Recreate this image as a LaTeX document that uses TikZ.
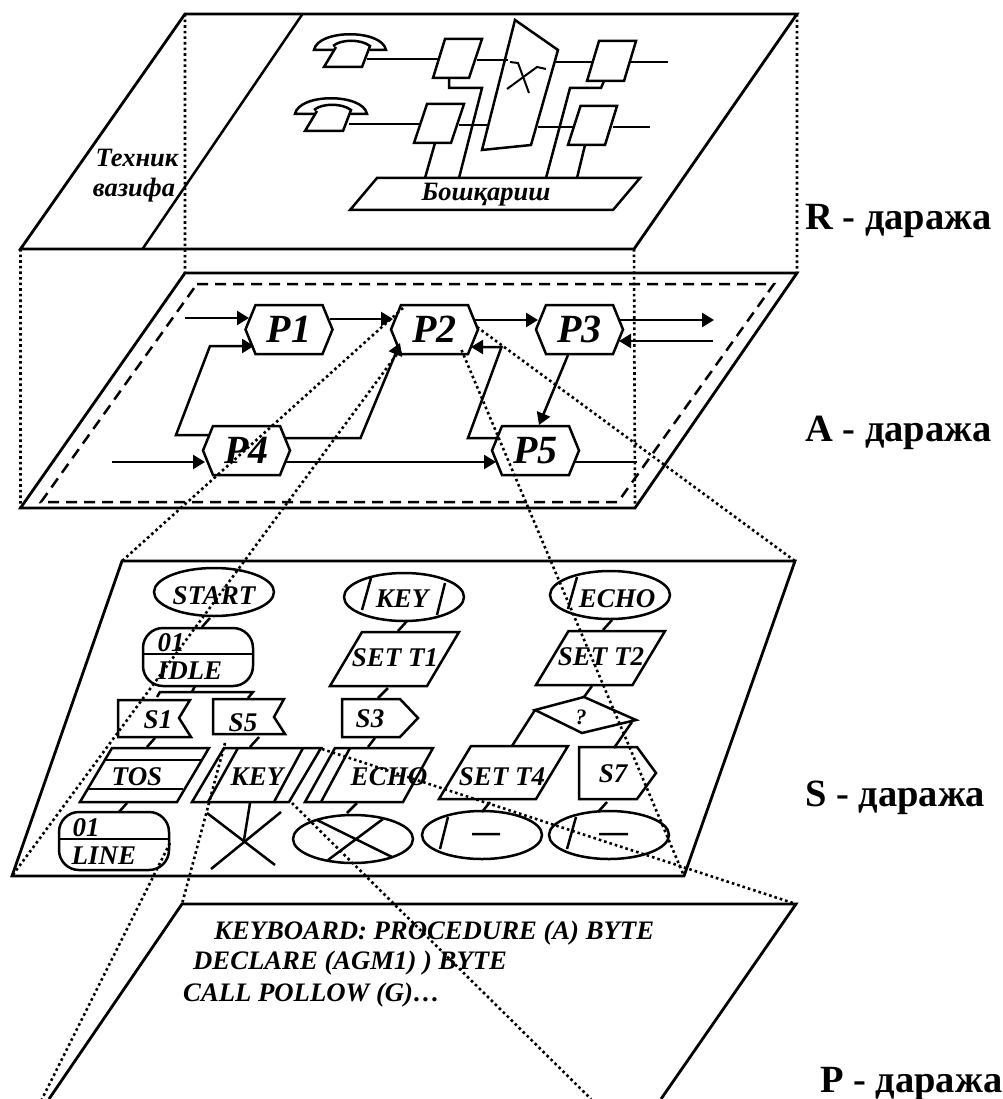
\documentclass[tikz,border=0pt]{standalone}
\usepackage{fontspec}
\setmainfont{Liberation Serif}
\usetikzlibrary{arrows.meta,shapes.misc,shapes.geometric}
\tikzset{
  ln/.style={line width=2.5pt,line join=miter},
  thin ln/.style={line width=2pt},
  plane/.style={line width=2.8pt,line join=miter},
  dash ln/.style={line width=2.5pt,dash pattern=on 11pt off 7pt},
  dots/.style={line width=2.6pt,dash pattern=on 2.6pt off 3pt},
  arr/.style={ln,-{Triangle[length=12pt,width=14pt]}},
  hexa/.style={inner sep=0pt,outer sep=0pt,minimum width=87pt,minimum height=49pt,font=\fontsize{40}{41}\selectfont\bfseries\itshape},
  stxt/.style={inner sep=0pt,font=\fontsize{27}{28}\selectfont\bfseries\itshape},
  rtxt/.style={inner sep=0pt,font=\fontsize{26.5}{28}\selectfont\bfseries\itshape},
  ptxt/.style={inner sep=0pt,anchor=west,font=\fontsize{26.7}{28}\selectfont\bfseries\itshape},
  lvl/.style={inner sep=0pt,anchor=west,font=\fontsize{38.5}{40}\selectfont\bfseries},
  oval/.style={draw,line width=2.5pt,ellipse,inner sep=0pt,minimum width=120pt,minimum height=48pt},
  rbox/.style={draw,line width=2.5pt,rounded corners=20pt,inner sep=0pt,minimum width=110pt,minimum height=58pt},
  hbox/.style={inner sep=0pt,outer sep=0pt},
}
\newcommand{\cn}[6]{\draw[ln] ([shift={(#2,#3)}]#1.center) -- ([shift={(#5,#6)}]#4.center);}
% name, cx, cy, w, h, slant
\newcommand{\pgram}[6]{\node[hbox,minimum width=#4pt,minimum height=#5pt] (#1) at (#2,#3) {};
  \draw[ln] ([shift={(#6,0)}]#1.north west) -- (#1.north east) -- ([shift={(-#6,0)}]#1.south east) -- (#1.south west) -- cycle;}
\newcommand{\phone}[2]{\begin{scope}[shift={(#1,#2)}]
  \draw[ln] (314,50) .. controls (318,29) and (382,29) .. (386,50) -- cycle;
  \draw[ln,fill=white] (333,46) .. controls (341,39) and (361,39) .. (370,46) -- (362,67) -- (324,67) -- (336,47);
\end{scope}}
\newcommand{\hexn}[4]{\node[hexa] (#1) at (#2,#3) {#4};
  \draw[ln] ([shift={(10,0)}]#1.north west) -- ([shift={(-10,0)}]#1.north east) -- (#1.east) -- ([shift={(-10,0)}]#1.south east) -- ([shift={(10,0)}]#1.south west) -- (#1.west) -- cycle;}
\begin{document}
\begin{tikzpicture}[x=1pt,y=-1pt]
\useasboundingbox (0,0) rectangle (1002,1099);
\fill[white] (0,0) rectangle (1002,1099);
% plane corners
\coordinate (RTL) at (185,14);\coordinate (RTR) at (797,14);\coordinate (RBR) at (634,249);\coordinate (RBL) at (20.5,249);
\coordinate (ATL) at (185,273);\coordinate (ATR) at (797,273);\coordinate (ABR) at (635,508);\coordinate (ABL) at (20.5,508);
\coordinate (STL) at (122,561);\coordinate (STR) at (795,561);\coordinate (SBR) at (684,876);\coordinate (SBL) at (12,876);
\coordinate (PTL) at (182,904);\coordinate (PTR) at (796,904);\coordinate (PBR) at (661,1099);\coordinate (PBL) at (49,1099);
% R level
\draw[plane] (RTL) -- (RTR) -- (RBR) -- (RBL) -- cycle;
\draw[ln] (302.5,14) -- (142.5,249);
\node[rtxt] (tech1) at (137,158) {Техник};
\node[rtxt] (tech2) at (134,190) {вазифа};
\phone{0}{0}\phone{-19}{64}
\pgram{ctrl}{495}{194}{290}{32}{27}
\node[rtxt] (ctrltxt) at (486,195) {Бошқариш};
\draw[ln] (445,39)--(482,39)--(469,78)--(433,78)--cycle;
\draw[ln] (427,104)--(464,104)--(451,143)--(414,143)--cycle;
\draw[ln] (599,41)--(636,41)--(624,81)--(587,81)--cycle;
\draw[ln] (580.5,106)--(617,106)--(605,145)--(568,145)--cycle;
\draw[ln] (515,20)--(558,50)--(531,145)--(482,150)--cycle;
\draw[thin ln] (510,62)--(518,63)--(529,93);
\draw[thin ln] (546,69)--(537,67)--(507,89);
\draw[ln] (367,59)--(439,59) (477,60)--(508,60) (556,62)--(592,62) (631,62)--(668,62);
\draw[ln] (349,124)--(420,124) (459,125)--(487,125) (538,127)--(573,127) (613,127)--(650,127);
\draw[ln] (435,143)--(425,178);
\draw[ln] (449,78)--(449,88)--(482,88)--(459,178);
\draw[ln] (604,81)--(601,88)--(570,88)--(546,178);
\draw[ln] (585,145)--(577,178);
% A level
\draw[plane] (ATL) -- (ATR) -- (ABR) -- (ABL) -- cycle;
\draw[dash ln] (197,284) -- (774,284) -- (618,502) -- (41,502) -- cycle;
\hexn{P1}{289}{329.5}{P1}
\hexn{P2}{434.5}{329.5}{P2}
\hexn{P3}{579.5}{329.5}{P3}
\hexn{P4}{246.5}{450.5}{P4}
\hexn{P5}{535.5}{450.5}{P5}
\coordinate (inP1) at (185,318);\coordinate (outP3) at (714,320);\coordinate (inP3) at (713,341);
\coordinate (inP4) at (112,462);\coordinate (outP5) at (637,462);
\draw[arr] (inP1) -- ([shift={(-40,-11.5)}]P1.center);
\draw[arr] ([shift={(41,-10.5)}]P1.center) -- ([shift={(-41.5,-10.5)}]P2.center);
\draw[arr] ([shift={(39.5,-9.5)}]P2.center) -- ([shift={(-41.5,-9.5)}]P3.center);
\draw[arr] ([shift={(40.5,-9.5)}]P3.center) -- (outP3);
\draw[arr] (inP3) -- ([shift={(39.5,11.5)}]P3.center);
\draw[arr] ([shift={(-38.5,-15.5)}]P4.center) -- (176,435) -- (210,346) -- ([shift={(-35,16.5)}]P1.center);
\draw[arr] ([shift={(39.5,-12.5)}]P4.center) -- (360.5,438) -- ([shift={(-34.5,13.5)}]P2.center);
\draw[arr] ([shift={(-38.5,-12.5)}]P5.center) -- (468,438) -- (501.5,347) -- ([shift={(36.5,17.5)}]P2.center);
\draw[arr] ([shift={(-11.5,25.5)}]P3.center) -- ([shift={(3.5,-25.5)}]P5.center);
\draw[arr] (inP4) -- ([shift={(-41.5,11.5)}]P4.center);
\draw[arr] ([shift={(38.5,11.5)}]P4.center) -- ([shift={(-39.5,11.5)}]P5.center);
\draw[ln] ([shift={(38.5,11.5)}]P5.center) -- (outP5);
% S level
\draw[plane] (STL) -- (STR) -- (SBR) -- (SBL) -- cycle;
\node[oval] (start) at (214,592) {};
\node[stxt] (starttxt) at (214,596) {START};
\node[rbox] (idle) at (198,657) {};
\draw[ln] (idle.west |- 0,654) -- (idle.east |- 0,654);
\node[stxt] (idle01) at (171,643) {01};
\node[stxt] (idletxt) at (190,671) {IDLE};
\draw[ln] (157,697)--(160,692)--(253,692)--(248,698);
\coordinate (branch) at (192,692);
\draw[ln] ([shift={(-3,29)}]idle.center) -- (branch);
\cn{start}{-4}{26}{idle}{4}{-30}
\node[hbox,minimum width=73pt,minimum height=37pt] (s1) at (154.5,718.5) {};
\draw[ln] (118,700)--(190,700)--(179,718)--(191,737)--(118,737)--cycle;
\node[stxt] (s1txt) at (158,720) {S1};
\node[hbox,minimum width=72pt,minimum height=35pt] (s5) at (249,716.5) {};
\draw[ln] (213,699)--(284,699)--(274,717)--(285,734)--(213,734)--cycle;
\node[stxt] (s5txt) at (243,723) {S5};
\pgram{tos}{144.5}{775}{129}{54}{32}
\draw[ln] (105,760)--(202,760) (87,789)--(183,789);
\node[stxt] (tostxt) at (137,777) {TOS};
\cn{s1}{0.5}{19.5}{tos}{2.5}{-28}
\node[rbox] (line) at (114,841) {};
\draw[ln] (line.west |- 0,839) -- (line.east |- 0,839);
\node[stxt] (line01) at (86,828) {01};
\node[stxt] (linetxt) at (104,856) {LINE};
\cn{tos}{-17.5}{28}{line}{5}{-29}
\pgram{keyp}{256.5}{775}{129}{54}{32}
\draw[ln] (238,748)--(208,802) (303,748)--(274,802);
\node[stxt] (keyptxt) at (257,777) {KEY};
\cn{s5}{10}{20.5}{keyp}{-6.5}{-28}
\coordinate (xc) at (244,840);
\draw[ln] (207,813)--(275,865) (281,812)--(211,869);
\draw[ln] ([shift={(-6.5,28)}]keyp.center) -- (xc);
\pgram{echop}{369}{775}{128}{54}{30}
\draw[ln] (350,748)--(321,802);
\node[stxt] (echoptxt) at (389,777) {ECHO};
\node[oval] (e3) at (353,839) {};
\draw[ln] (317,820)--(392,857) (383,819)--(328,860);
\cn{echop}{-12}{28}{e3}{-6}{-26}
\node[oval] (keyE) at (404,597) {};
\draw[ln] (371,578)--(362,610) (445,583)--(437,615);
\node[stxt] (keyEtxt) at (402,599) {KEY};
\pgram{setA}{394.5}{659}{129}{54}{32}
\node[stxt] (setAtxt) at (395,658) {SET T1};
\cn{keyE}{3}{24}{setA}{3.5}{-28}
\node[hbox,minimum width=76pt,minimum height=38pt] (s3) at (380,718) {};
\draw[ln] (342,699)--(400,699)--(418,718)--(400,737)--(342,737)--cycle;
\node[stxt] (s3txt) at (370,719) {S3};
\cn{setA}{-6.5}{29}{s3}{-2}{-20}
\cn{s3}{-5}{20}{echop}{-1}{-28}
\node[oval] (echoE) at (610,595) {};
\draw[ln] (577,577)--(568,609);
\node[stxt] (echoEtxt) at (617,599) {ECHO};
\pgram{setB}{600.5}{658}{129}{54}{32.5}
\node[stxt] (setBtxt) at (601,657) {SET T2};
\cn{echoE}{2}{25}{setB}{2.5}{-28}
\node[hbox,minimum width=100pt,minimum height=36pt] (dia) at (585,715) {};
\draw[ln] (584,697)--(636,720)--(582,733)--(535,710)--cycle;
\node[inner sep=0pt,font=\fontsize{22}{24}\selectfont\bfseries\itshape] (diatxt) at (581,717) {?};
\cn{setB}{-8.5}{28}{dia}{-1}{-18}
\pgram{setC}{503.5}{772.5}{129}{53}{32}
\node[stxt] (setCtxt) at (502,777) {SET T4};
\cn{dia}{-50}{-5}{setC}{8.5}{-26.5}
\node[hbox,minimum width=77pt,minimum height=52pt] (s7) at (617.5,773) {};
\draw[ln] (579,747)--(637,747)--(656,773)--(637,799)--(579,799)--cycle;
\node[stxt] (s7txt) at (613,774) {S7};
\cn{dia}{47}{7}{s7}{-3.5}{-25}
\node[oval] (e5) at (482,835) {};
\draw[ln] (448,817)--(440,849) (472,834)--(500,834);
\cn{setC}{-13.5}{29.5}{e5}{0}{-23}
\node[oval] (e6) at (609,835) {};
\draw[ln] (576,817)--(567,849) (599,834)--(628,834);
\cn{s7}{-10.5}{29}{e6}{-11}{-23}
% P level
\draw[plane] (PBL) -- (PTL) -- (PTR) -- (PBR);
\node[ptxt] (code1) at (214,933) {KEYBOARD: PROCEDURE (A) BYTE};
\node[ptxt] (code2) at (193,963) {DECLARE (AGM1) ) BYTE};
\node[ptxt] (code3) at (183,995) {CALL POLLOW (G)…};
% level labels
\node[lvl] (lvlR) at (805,221) {R - даража};
\node[lvl] (lvlA) at (805,433) {A - даража};
\node[lvl] (lvlS) at (805,798) {S - даража};
\node[lvl] (lvlP) at (820,1084) {P - даража};
% projection lines
\draw[dots] (RTL) -- (ATL) (RTR) -- (ATR) (RBL) -- (ABL) (RBR) -- (ABR);
\coordinate (p2a) at (403,308);\coordinate (p2b) at (400,350);\coordinate (p2c) at (461.5,350);\coordinate (p2d) at (477,327);
\draw[dots] (p2a) -- (STL) (p2b) -- (SBL) (p2c) -- (SBR) (p2d) -- (STR);
\coordinate (ka) at (225,743);\coordinate (kb) at (170,843);\coordinate (kc) at (292,803);\coordinate (kd) at (322,749);
\coordinate (pb) at (42,1099);\coordinate (pc) at (591,1099);
\draw[dots] (ka) -- (PTL) (kb) -- (pb) (kc) -- (pc) (kd) -- (PTR);
\end{tikzpicture}
\end{document}
